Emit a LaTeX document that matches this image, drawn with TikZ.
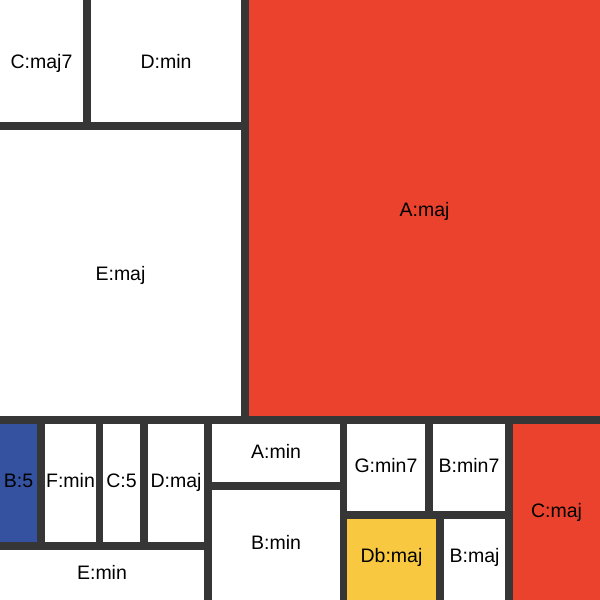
\documentclass[tikz,border=0pt]{standalone}
\usepackage{fontspec}
\setmainfont{Liberation Sans}
\definecolor{bgdark}{RGB}{54,54,54}
\definecolor{mred}{RGB}{234,66,44}
\definecolor{mblue}{RGB}{52,82,160}
\definecolor{myellow}{RGB}{247,200,64}
\begin{document}
\begin{tikzpicture}[x=1pt,y=-1pt,
  cell/.style={rectangle,inner sep=0pt,outer sep=0pt,fill=white,
    text depth=0pt,text height=14pt,
    font=\fontsize{19.5}{22}\selectfont,text=black}]
\fill[bgdark] (0,0) rectangle (600,600);
\useasboundingbox (0,0) rectangle (600,600);
\node[cell,minimum width=83pt,minimum height=122pt] (cmaj7) at (41.5,61) {C:maj7};
\node[cell,minimum width=150pt,minimum height=122pt] (dmin) at (166,61) {D:min};
\node[cell,fill=mred,text height=16pt,minimum width=351pt,minimum height=416pt] (amaj) at (424.5,208) {A:maj};
\node[cell,minimum width=241pt,minimum height=286pt] (emaj) at (120.5,273) {E:maj};
\node[cell,fill=mblue,text depth=5pt,minimum width=37pt,minimum height=118pt] (b5) at (18.5,483) {B:5};
\node[cell,text depth=5pt,minimum width=51pt,minimum height=118pt] (fmin) at (70.5,483) {F:min};
\node[cell,text depth=5pt,minimum width=37pt,minimum height=118pt] (c5) at (121.5,483) {C:5};
\node[cell,text depth=5pt,minimum width=56pt,minimum height=118pt] (dmaj) at (176,483) {D:maj};
\node[cell,text depth=6pt,minimum width=204pt,minimum height=50pt] (emin) at (102,575) {E:min};
\node[cell,text depth=3pt,minimum width=128pt,minimum height=58pt] (amin) at (276,453) {A:min};
\node[cell,text depth=5pt,minimum width=128pt,minimum height=110pt] (bmin) at (276,545) {B:min};
\node[cell,text depth=4pt,minimum width=78pt,minimum height=87pt] (gmin7) at (386,467.5) {G:min7};
\node[cell,text depth=4pt,minimum width=72pt,minimum height=87pt] (bmin7) at (469,467.5) {B:min7};
\node[cell,fill=myellow,text depth=8pt,minimum width=89pt,minimum height=81pt] (dbmaj) at (391.5,559.5) {Db:maj};
\node[cell,text depth=8pt,minimum width=61pt,minimum height=81pt] (bmaj) at (474.5,559.5) {B:maj};
\node[cell,fill=mred,text depth=4pt,minimum width=87pt,minimum height=176pt] (cmaj) at (556.5,512) {C:maj};
\end{tikzpicture}
\end{document}
